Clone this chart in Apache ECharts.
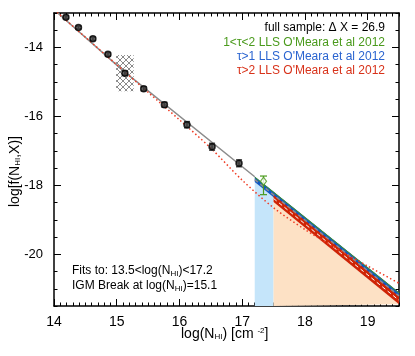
<!DOCTYPE html>
<html>
  <head>
    <meta charset="utf-8" />
    <style type="text/css">
      html,
      body {
        width: 100%;
        height: 100%;
        margin: 0px;
        background: #fff;
      }
      #chart {
        width: 415px;
        height: 356px;
      }
    </style>
    <script src="https://cdn.jsdelivr.net/npm/echarts@6/dist/echarts.min.js"></script>
  </head>
  <body>
    <div id="chart"></div>
    <script>
      // binned f(N_HI,X) measurements
      const ptX = [14.19, 14.39, 14.62, 14.86, 15.13, 15.43, 15.76, 16.12, 16.52, 16.95];
      const ptY = [-13.12, -13.42, -13.75, -14.2, -14.75, -15.2, -15.66, -16.24, -16.88, -17.36];
      const ptErr = [0.04, 0.04, 0.05, 0.05, 0.06, 0.06, 0.07, 0.09, 0.1, 0.1];

      // 1<tau<2 LLS point
      const llsX = [17.34];
      const llsY = [-17.88];
      const llsLo = [-18.27];
      const llsHi = [-17.73];

      // broken power law fit (gray)
      const fitX = [14.06, 15.1, 17.2];
      const fitY = [-13.0, -14.67, -17.75];

      // red dotted curve
      const dotX = [14.05, 14.5, 15.0, 15.5, 16.0, 16.5, 17.0, 17.5, 18.0, 18.5, 19.0, 19.5];
      const dotY = [-12.98, -13.7, -14.5, -15.3, -16.1, -16.92, -17.85, -18.65, -19.28, -19.83, -20.34, -20.84];

      // tau>1 band (blue)
      const blueX = [17.2, 19.5];
      const blueHi = [-17.74, -21.1];
      const blueLo = [-17.9, -21.28];

      // tau>2 band (red)
      const redX = [17.5, 19.5];
      const redHi = [-18.28, -21.22];
      const redLo = [-18.48, -21.45];

      // shaded areas under the bands
      const skyX = [17.2, 17.5];
      const skyY = [-17.9, -18.34];
      const peachX = [17.5, 19.5];
      const peachY = [-18.48, -21.45];

      // hatched box around the break
      const boxX = [14.99, 15.27];
      const boxY = [-15.27, -14.22];

      const xMajor = [14, 15, 16, 17, 18, 19];
      const yMajor = [-20, -18, -16, -14];

      const pairs = (xs, ys) => xs.map((x, i) => [x, ys[i]]);
      const steps = (a, b, s) => {
        const out = [];
        for (let v = a; v <= b + 1e-9; v += s) out.push(Math.round(v * 100) / 100);
        return out;
      };
      const xMinor = steps(14, 19.5, 0.1);
      const yMinor = steps(-21.5, -13, 0.5);

      const FONT = "Liberation Sans";

      // small hatch tile
      const tile = document.createElement("canvas");
      tile.width = 6;
      tile.height = 6;
      const tc = tile.getContext("2d");
      tc.strokeStyle = "#8a8a8a";
      tc.lineWidth = 1;
      tc.beginPath();
      tc.moveTo(0, 0);
      tc.lineTo(6, 6);
      tc.moveTo(6, 0);
      tc.lineTo(0, 6);
      tc.stroke();

      function bandSeries(xs, hi, lo, color, z) {
        return {
          type: "custom",
          z: z,
          silent: true,
          data: [[xs[0], hi[0]]],
          renderItem: function (params, api) {
            const top = xs.map((x, i) => api.coord([x, hi[i]]));
            const bot = xs.map((x, i) => api.coord([x, lo[i]])).reverse();
            return {
              type: "polygon",
              shape: { points: top.concat(bot) },
              style: { fill: color },
            };
          },
        };
      }

      function areaSeries(xs, ys, color, z) {
        return {
          type: "line",
          z: z,
          silent: true,
          symbol: "none",
          data: pairs(xs, ys),
          lineStyle: { width: 0 },
          areaStyle: { color: color, opacity: 1, origin: "start" },
        };
      }

      function axisX(pos, values, len, showLine) {
        return {
          type: "value",
          position: pos,
          min: 14,
          max: 19.5,
          splitLine: { show: false },
          axisLine: { show: showLine, onZero: false, lineStyle: { color: "#000", width: 1.5 } },
          axisTick: { inside: true, length: len, customValues: values, lineStyle: { color: "#000", width: 1 } },
          axisLabel: {
            show: pos === "bottom" && showLine,
            customValues: xMajor,
            color: "#000",
            fontFamily: FONT,
            fontSize: 14,
            margin: 9,
          },
        };
      }

      function axisY(pos, values, len, showLine) {
        return {
          type: "value",
          position: pos,
          min: -21.5,
          max: -13,
          splitLine: { show: false },
          axisLine: { show: showLine, onZero: false, lineStyle: { color: "#000", width: 1.5 } },
          axisTick: { inside: true, length: len, customValues: values, lineStyle: { color: "#000", width: 1 } },
          axisLabel: {
            show: pos === "left" && showLine,
            customValues: yMajor,
            color: "#000",
            fontFamily: FONT,
            fontSize: 13,
            margin: 11,
          },
        };
      }

      const sub = { fontSize: 8, fontFamily: FONT, verticalAlign: "bottom", padding: [6, 0, 0, 0] };
      const sup = { fontSize: 8, fontFamily: FONT, padding: [0, 0, 6, 0] };

      const chart = echarts.init(document.getElementById("chart"), null, { renderer: "canvas" });

      const option = {
        backgroundColor: "#fff",
        animation: false,
        grid: { left: 54, right: 16, top: 13, bottom: 50 },
        xAxis: [
          axisX("bottom", xMajor, 7, true),
          axisX("bottom", xMinor, 3.5, false),
          axisX("top", xMajor, 7, true),
          axisX("top", xMinor, 3.5, false),
        ],
        yAxis: [
          axisY("left", yMajor, 7, true),
          axisY("left", yMinor, 3.5, false),
          axisY("right", yMajor, 7, true),
          axisY("right", yMinor, 3.5, false),
        ],
        series: [
          areaSeries(skyX, skyY, "#c5e5fa", 1),
          areaSeries(peachX, peachY, "#fde1c5", 1),
          {
            type: "custom",
            z: 2,
            silent: true,
            data: [[boxX[0], boxY[0], boxX[1], boxY[1]]],
            renderItem: function (params, api) {
              const p0 = api.coord([api.value(0), api.value(3)]);
              const p1 = api.coord([api.value(2), api.value(1)]);
              return {
                type: "rect",
                shape: { x: p0[0], y: p0[1], width: p1[0] - p0[0], height: p1[1] - p0[1] },
                style: { fill: { image: tile, repeat: "repeat" }, stroke: null },
              };
            },
          },
          bandSeries(blueX, blueHi, blueLo, "#0d58c4", 3),
          bandSeries(redX, redHi, redLo, "#cf2405", 4),
          {
            type: "line",
            z: 5,
            silent: true,
            symbol: "none",
            data: pairs(blueX, blueHi.map((v) => v - 0.02)),
            lineStyle: { color: "#4a9a1c", width: 1 },
          },
          {
            type: "line",
            z: 5,
            silent: true,
            symbol: "none",
            data: pairs(blueX, blueHi.map((v, i) => (v + blueLo[i]) / 2 - 0.015)),
            lineStyle: { color: "#8c8c8c", width: 1.5, type: [4, 3] },
          },
          {
            type: "line",
            z: 5,
            silent: true,
            symbol: "none",
            data: pairs(redX, redHi.map((v, i) => (v + redLo[i]) / 2)),
            lineStyle: { color: "#fff", width: 1, type: [4, 3] },
          },
          {
            type: "line",
            z: 6,
            silent: true,
            symbol: "none",
            data: pairs(fitX, fitY),
            lineStyle: { color: "#8c8c8c", width: 1.5 },
          },
          {
            type: "line",
            z: 7,
            silent: true,
            symbol: "none",
            smooth: 0.3,
            data: pairs(dotX, dotY),
            lineStyle: { color: "#f03a22", width: 1.5, type: [1.5, 2.5] },
          },
          {
            // error bars on the binned points
            type: "custom",
            z: 8,
            silent: true,
            data: ptX.map((x, i) => [x, ptY[i] - ptErr[i], ptY[i] + ptErr[i]]),
            renderItem: function (params, api) {
              const lo = api.coord([api.value(0), api.value(1)]);
              const hi = api.coord([api.value(0), api.value(2)]);
              const w = 3;
              const st = { stroke: "#444", lineWidth: 1.5 };
              return {
                type: "group",
                children: [
                  { type: "line", shape: { x1: lo[0], y1: lo[1], x2: hi[0], y2: hi[1] }, style: st },
                  { type: "line", shape: { x1: lo[0] - w, y1: lo[1], x2: lo[0] + w, y2: lo[1] }, style: st },
                  { type: "line", shape: { x1: hi[0] - w, y1: hi[1], x2: hi[0] + w, y2: hi[1] }, style: st },
                ],
              };
            },
          },
          {
            type: "scatter",
            z: 9,
            silent: true,
            symbol: "circle",
            symbolSize: 6,
            data: pairs(ptX, ptY),
            itemStyle: { color: "#3a3a3a", borderColor: "#000", borderWidth: 1.5 },
          },
          {
            type: "custom",
            z: 9,
            silent: true,
            data: llsX.map((x, i) => [x, llsLo[i], llsHi[i]]),
            renderItem: function (params, api) {
              const lo = api.coord([api.value(0), api.value(1)]);
              const hi = api.coord([api.value(0), api.value(2)]);
              const w = 3.5;
              const st = { stroke: "#4a9a1c", lineWidth: 1.2 };
              return {
                type: "group",
                children: [
                  { type: "line", shape: { x1: lo[0], y1: lo[1], x2: hi[0], y2: hi[1] }, style: st },
                  { type: "line", shape: { x1: lo[0] - w, y1: lo[1], x2: lo[0] + w, y2: lo[1] }, style: st },
                  { type: "line", shape: { x1: hi[0] - w, y1: hi[1], x2: hi[0] + w, y2: hi[1] }, style: st },
                ],
              };
            },
          },
          {
            type: "scatter",
            z: 10,
            silent: true,
            symbol: "diamond",
            symbolSize: [6, 8],
            data: pairs(llsX, llsY),
            itemStyle: { color: "#fff", borderColor: "#4a9a1c", borderWidth: 1.2 },
          },
        ],
        graphic: [
          {
            type: "text",
            right: 30,
            top: 22,
            style: {
              text: "full sample: \u0394 X = 26.9",
              fill: "#000",
              font: "12px " + FONT,
              align: "right",
            },
          },
          {
            type: "text",
            right: 30,
            top: 37,
            style: { text: "1<\u03c4<2 LLS O'Meara et al 2012", fill: "#4a9a1c", font: "12px " + FONT },
          },
          {
            type: "text",
            right: 30,
            top: 51,
            style: { text: "\u03c4>1 LLS O'Meara et al 2012", fill: "#2a64d0", font: "12px " + FONT },
          },
          {
            type: "text",
            right: 30,
            top: 65,
            style: { text: "\u03c4>2 LLS O'Meara et al 2012", fill: "#d8321a", font: "12px " + FONT },
          },
          {
            type: "text",
            left: 72,
            top: 265,
            style: {
              text: "Fits to: 13.5<log(N{s|HI})<17.2",
              fill: "#000",
              font: "12px " + FONT,
              rich: { s: sub },
            },
          },
          {
            type: "text",
            left: 72,
            top: 280,
            style: {
              text: "IGM Break at log(N{s|HI})=15.1",
              fill: "#000",
              font: "12px " + FONT,
              rich: { s: sub },
            },
          },
          {
            type: "text",
            left: 181,
            top: 327,
            style: {
              text: "log(N{s|HI}) [cm {p|-2}]",
              fill: "#000",
              font: "14px " + FONT,
              rich: { s: sub, p: sup },
            },
          },
          {
            // y title, reads bottom-to-top
            type: "text",
            x: 8,
            y: 207,
            rotation: Math.PI / 2,
            style: {
              text: "log[f(N{s|HI},X)]",
              fill: "#000",
              font: "14px " + FONT,
              rich: { s: sub },
            },
          },
        ],
      };

      chart.setOption(option);
    </script>
  </body>
</html>
